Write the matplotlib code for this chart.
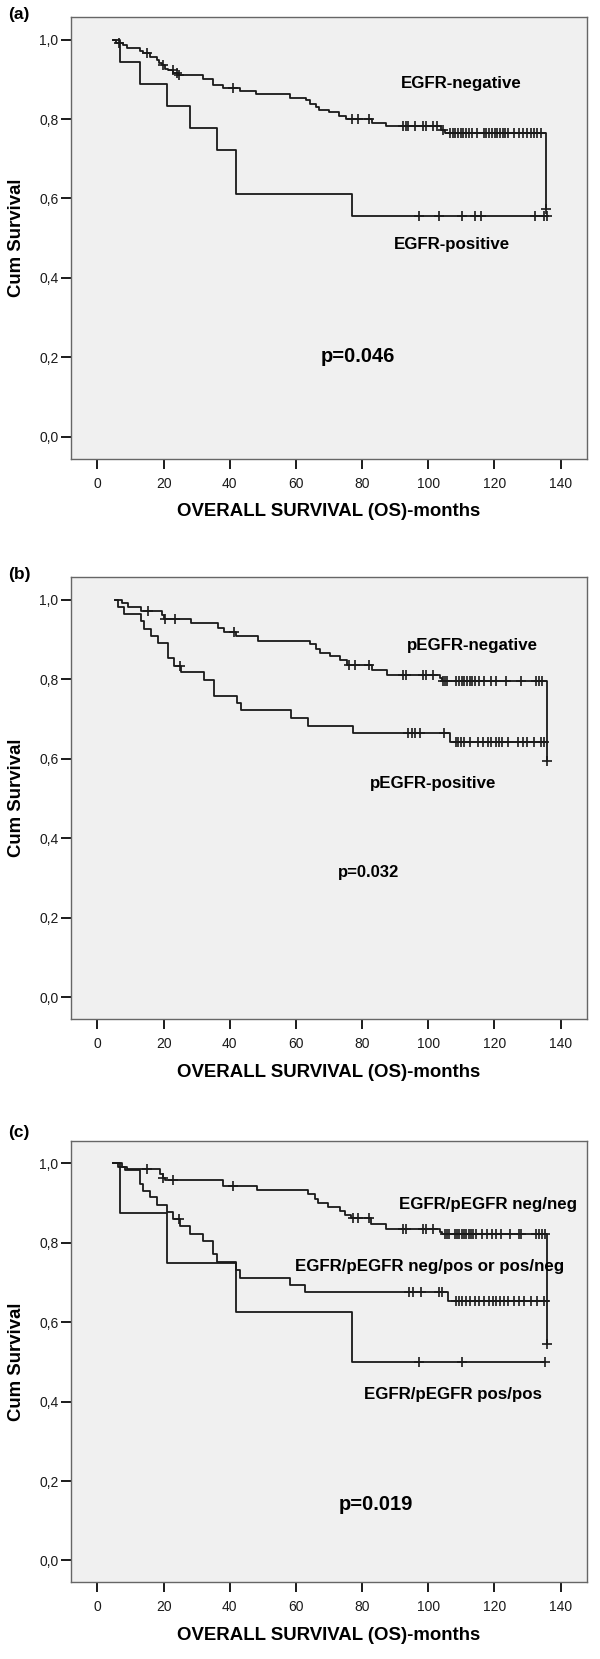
import matplotlib
matplotlib.use('Agg')
import matplotlib.pyplot as plt
import numpy as np

plt.rcParams['font.family'] = ['Liberation Sans', 'DejaVu Sans']

# ---- panel (a): EGFR ----
a_neg_start = 4.8
a_neg_t = [5.5, 7.6, 8.8, 12.8, 13.8, 15.9, 17.9, 18.7, 19.4, 20.4, 21.4, 22.9, 24.4, 32.0, 35.0, 38.0,
           43.0, 48.0, 58.2, 63.0, 64.2, 66.0, 67.0, 70.0, 73.1, 75.1, 83.1, 87.2, 104.0, 105.2, 135.5]
a_neg_s = [0.992, 0.986, 0.978, 0.972, 0.966, 0.955, 0.948, 0.942, 0.936, 0.927, 0.923, 0.917, 0.910, 0.901,
           0.886, 0.878, 0.870, 0.862, 0.854, 0.848, 0.839, 0.831, 0.823, 0.817, 0.808, 0.801, 0.791, 0.782,
           0.773, 0.765, 0.573]
a_neg_cens = [6.5, 14.9, 19.7, 22.7, 23.9, 24.7, 41.0, 77.1, 78.8, 82.1, 92.4, 93.2, 93.9, 95.9, 98.4, 99.4,
              101.3, 102.7, 104.5, 106.6, 107.4, 108.2, 109.0, 109.8, 110.6, 111.4, 112.2, 113.1, 114.6, 116.8,
              117.6, 118.4, 119.2, 120.1, 120.9, 121.7, 122.5, 123.3, 124.1, 126.0, 127.5, 128.5, 130.0, 131.0,
              132.0, 133.0, 134.0, 135.5]
a_neg_end = 135.5

a_pos_start = 4.8
a_pos_t = [6.8, 12.8, 20.9, 27.9, 36.0, 42.0, 77.1]
a_pos_s = [0.944, 0.889, 0.833, 0.778, 0.722, 0.611, 0.556]
a_pos_cens = [97.2, 103.2, 110.2, 114.0, 116.1, 132.3, 135.0, 135.8]
a_pos_end = 135.8

# ---- panel (b): pEGFR ----
b_neg_start = 5.3
b_neg_t = [7.3, 9.3, 13.3, 19.4, 20.2, 28.2, 36.3, 38.3, 42.0, 48.4, 64.2, 66.2, 67.2, 70.3, 73.3, 75.3,
           83.1, 87.6, 103.5, 104.3, 136.0]
b_neg_s = [0.992, 0.982, 0.971, 0.960, 0.950, 0.940, 0.929, 0.918, 0.908, 0.897, 0.887, 0.876, 0.866, 0.857,
           0.847, 0.836, 0.822, 0.809, 0.802, 0.794, 0.595]
b_neg_cens = [15.3, 20.4, 23.4, 41.3, 76.1, 77.8, 82.1, 92.4, 93.2, 98.4, 99.4, 101.3, 104.6, 105.2, 105.8,
              108.5, 109.3, 110.1, 110.9, 111.7, 112.5, 113.3, 114.1, 115.5, 117.0, 119.0, 120.6, 123.6, 128.0,
              132.5, 133.5, 134.5, 136.0]
b_neg_end = 136.0

b_pos_start = 5.3
b_pos_t = [6.3, 8.1, 13.1, 14.1, 16.2, 18.2, 21.2, 23.2, 25.2, 32.3, 35.3, 42.3, 43.3, 58.5, 63.5, 77.3, 106.5]
b_pos_s = [0.981, 0.963, 0.945, 0.927, 0.909, 0.891, 0.853, 0.834, 0.817, 0.798, 0.758, 0.740, 0.721, 0.702,
           0.683, 0.664, 0.641]
b_pos_cens = [24.9, 94.0, 95.0, 96.0, 97.4, 104.7, 108.3, 109.1, 109.9, 110.7, 112.5, 115.1, 116.6, 118.1,
              119.1, 120.6, 121.4, 122.2, 124.1, 127.0, 128.5, 130.0, 132.0, 134.0, 135.0]
b_pos_end = 136.0

# ---- panel (c): EGFR/pEGFR ----
c_nn_start = 4.8
c_nn_t = [7.3, 8.8, 18.9, 19.7, 20.3, 38.0, 48.1, 63.7, 65.7, 66.7, 69.7, 73.3, 74.8, 76.5, 82.8, 87.2,
          103.5, 104.3, 136.0]
c_nn_s = [0.991, 0.985, 0.974, 0.964, 0.957, 0.943, 0.932, 0.922, 0.911, 0.901, 0.890, 0.880, 0.869, 0.861,
          0.846, 0.834, 0.827, 0.821, 0.544]
c_nn_cens = [14.9, 19.9, 22.9, 41.0, 77.3, 78.8, 82.1, 92.4, 93.2, 98.4, 99.4, 101.3, 105.0, 105.6, 106.2,
             108.0, 108.7, 109.4, 110.1, 110.8, 111.5, 112.2, 112.9, 113.6, 114.3, 116.4, 117.8, 119.4, 120.6,
             122.1, 124.6, 127.3, 128.0, 132.5, 133.4, 134.3, 135.2, 136.0]
c_nn_end = 136.0

c_mix_start = 4.8
c_mix_t = [6.3, 8.3, 12.8, 13.8, 15.9, 17.9, 20.9, 22.9, 24.9, 27.9, 32.0, 35.0, 36.0, 42.0, 43.0, 58.2,
           62.7, 106.0]
c_mix_s = [0.991, 0.982, 0.947, 0.930, 0.914, 0.895, 0.876, 0.859, 0.842, 0.823, 0.804, 0.771, 0.751, 0.730,
           0.712, 0.694, 0.676, 0.653]
c_mix_cens = [24.7, 94.2, 95.4, 97.9, 103.3, 104.3, 108.3, 109.3, 110.3, 111.5, 112.7, 114.0, 115.5, 117.0,
              118.4, 119.6, 120.6, 121.6, 122.8, 124.1, 126.0, 127.5, 129.0, 131.0, 133.0, 135.0]
c_mix_end = 136.5

c_pp_start = 4.8
c_pp_t = [6.8, 20.9, 42.0, 77.1]
c_pp_s = [0.875, 0.75, 0.625, 0.5]
c_pp_cens = [97.2, 110.2, 135.3]
c_pp_end = 135.3


def km(ax, start, t, s, cens, end):
    xs = [start] + t + [end]
    ys = [1.0] + s + [s[-1]]
    ax.step(xs, ys, where='post', color='#1a1a1a', lw=1.3)
    # survival value at each censored time -> SPSS style "+" marks
    idx = np.searchsorted(np.array(t), np.array(cens), side='right')
    sv = np.concatenate([[1.0], s])[idx]
    ax.plot(cens, sv, ls='none', marker='+', ms=7, mew=1.2, color='#1a1a1a')


fig = plt.figure(figsize=(6, 16.59), dpi=100)

# axes boxes in pixels (top, bottom) of a 600x1659 figure
boxes = [(17.3, 458.7), (577.3, 1019.0), (1141.0, 1582.3)]
labels = ['(a)', '(b)', '(c)']
label_y = [14.5, 574.5, 1132.5]
axs = []
for (top, bot) in boxes:
    ax = fig.add_axes([71 / 600, 1 - bot / 1659, 516 / 600, (bot - top) / 1659])
    ax.set_facecolor('#f0f0f0')
    ax.set_xlim(-8, 148)
    ax.set_ylim(-0.055, 1.056)
    ax.set_xticks(np.arange(0, 141, 20))
    ax.set_yticks(np.arange(0, 1.01, 0.2))
    ax.set_yticklabels(['0,0', '0,2', '0,4', '0,6', '0,8', '1,0'])
    ax.tick_params(direction='out', length=7, width=1.4, labelsize=10, colors='#1a1a1a')
    ax.tick_params(axis='x', pad=6)
    ax.tick_params(axis='y', pad=2)
    for sp in ax.spines.values():
        sp.set_color('#666666')
        sp.set_linewidth(1.0)
    ax.set_xlabel('OVERALL SURVIVAL (OS)-months', fontsize=13.4, fontweight='bold')
    ax.xaxis.set_label_coords(0.5, -0.12)
    ax.xaxis.label.set_va('center')
    ax.set_ylabel('Cum Survival', fontsize=13.4, fontweight='bold')
    ax.yaxis.set_label_coords(-0.105, 0.5)
    ax.yaxis.label.set_va('center')
    axs.append(ax)

for lab, ly in zip(labels, label_y):
    fig.text(8 / 600, 1 - ly / 1659, lab, fontsize=12.5, fontweight='bold', ha='left', va='center')

ax = axs[0]
km(ax, a_neg_start, a_neg_t, a_neg_s, a_neg_cens, a_neg_end)
km(ax, a_pos_start, a_pos_t, a_pos_s, a_pos_cens, a_pos_end)
ax.text(110, 0.890, 'EGFR-negative', fontsize=12.2, fontweight='bold', ha='center', va='center')
ax.text(107.1, 0.485, 'EGFR-positive', fontsize=12.2, fontweight='bold', ha='center', va='center')
ax.text(78.6, 0.201, 'p=0.046', fontsize=14.5, fontweight='bold', ha='center', va='center')

ax = axs[1]
km(ax, b_neg_start, b_neg_t, b_neg_s, b_neg_cens, b_neg_end)
km(ax, b_pos_start, b_pos_t, b_pos_s, b_pos_cens, b_pos_end)
ax.text(113.4, 0.884, 'pEGFR-negative', fontsize=12.2, fontweight='bold', ha='center', va='center')
ax.text(101.5, 0.538, 'pEGFR-positive', fontsize=12.2, fontweight='bold', ha='center', va='center')
ax.text(82, 0.313, 'p=0.032', fontsize=12, fontweight='bold', ha='center', va='center')

ax = axs[2]
km(ax, c_nn_start, c_nn_t, c_nn_s, c_nn_cens, c_nn_end)
km(ax, c_mix_start, c_mix_t, c_mix_s, c_mix_cens, c_mix_end)
km(ax, c_pp_start, c_pp_t, c_pp_s, c_pp_cens, c_pp_end)
ax.text(118.1, 0.897, 'EGFR/pEGFR neg/neg', fontsize=12.2, fontweight='bold', ha='center', va='center')
ax.text(100.3, 0.739, 'EGFR/pEGFR neg/pos or pos/neg', fontsize=12.2, fontweight='bold', ha='center', va='center')
ax.text(107.4, 0.418, 'EGFR/pEGFR pos/pos', fontsize=12.2, fontweight='bold', ha='center', va='center')
ax.text(84.1, 0.141, 'p=0.019', fontsize=14.5, fontweight='bold', ha='center', va='center')

fig.savefig('out.png', dpi=100, facecolor='white')
